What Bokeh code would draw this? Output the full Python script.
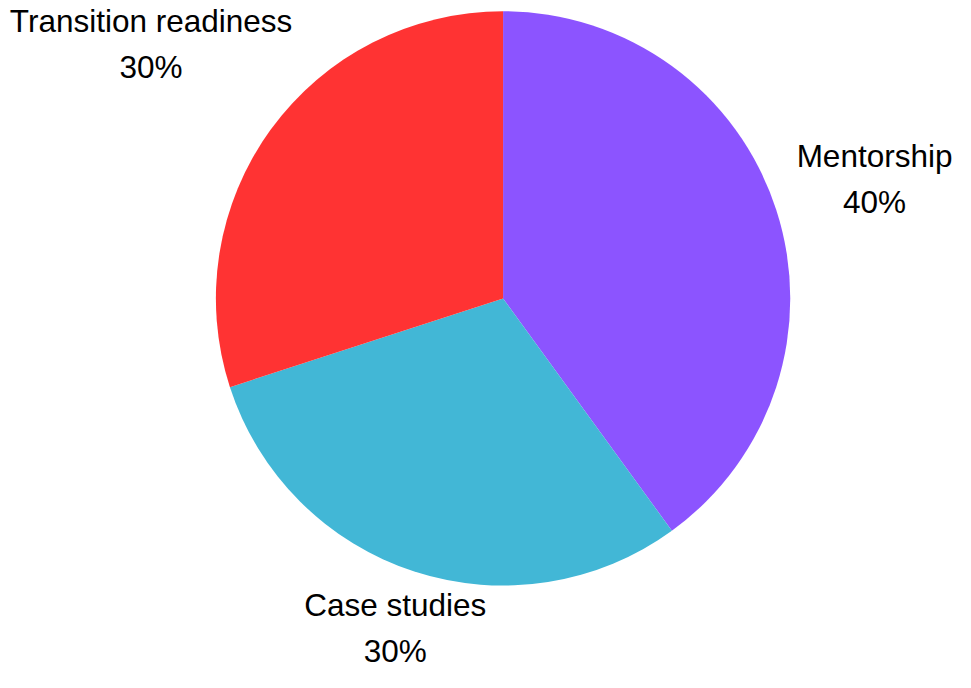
import math
from bokeh.plotting import figure
from bokeh.models import Range1d, ColumnDataSource
from bokeh.core.properties import value
from bokeh.embed import file_html
from bokeh.resources import INLINE

categories = ["Mentorship", "Case studies", "Transition readiness"]
shares = [40, 30, 30]
colors = ["#8C54FF", "#42B7D6", "#FF3333"]
label_dist = [1.36, 1.215, 1.515]

CX, CY, R = 511, -305, 292
total = float(sum(shares))
starts, ends, lx, ly, texts = [], [], [], [], []
cum = 0.0
for cat, s, k in zip(categories, shares, label_dist):
    a0 = math.pi / 2 - 2 * math.pi * cum / total
    cum += s
    a1 = math.pi / 2 - 2 * math.pi * cum / total
    starts.append(a0)
    ends.append(a1)
    mid = (a0 + a1) / 2
    lx.append(CX + R * k * math.cos(mid))
    ly.append(CY + R * k * math.sin(mid))
    texts.append(f"{cat}\n{s}%")

src = ColumnDataSource(dict(start=starts, end=ends, color=colors, x=[CX]*3, y=[CY]*3))
lsrc = ColumnDataSource(dict(x=lx, y=ly, text=texts))

W, H = 955, 672
p = figure(width=W, height=H, output_backend="svg", toolbar_location=None,
           x_range=Range1d(0, 971), y_range=Range1d(-688, 0),
           min_border=0)
p.axis.visible = False
p.grid.visible = False
p.outline_line_color = None
p.background_fill_color = "white"

p.wedge(x="x", y="y", radius=R, start_angle="start", end_angle="end",
        direction="clock", fill_color="color", line_color=None, source=src)
p.text(x="x", y="y", text="text", source=lsrc, text_align="center",
       text_baseline="middle", text_font=value("Liberation Sans"),
       text_font_size="31.5px", text_line_height=1.28, text_color="black")

open("out.html", "w").write(file_html(p, INLINE))
